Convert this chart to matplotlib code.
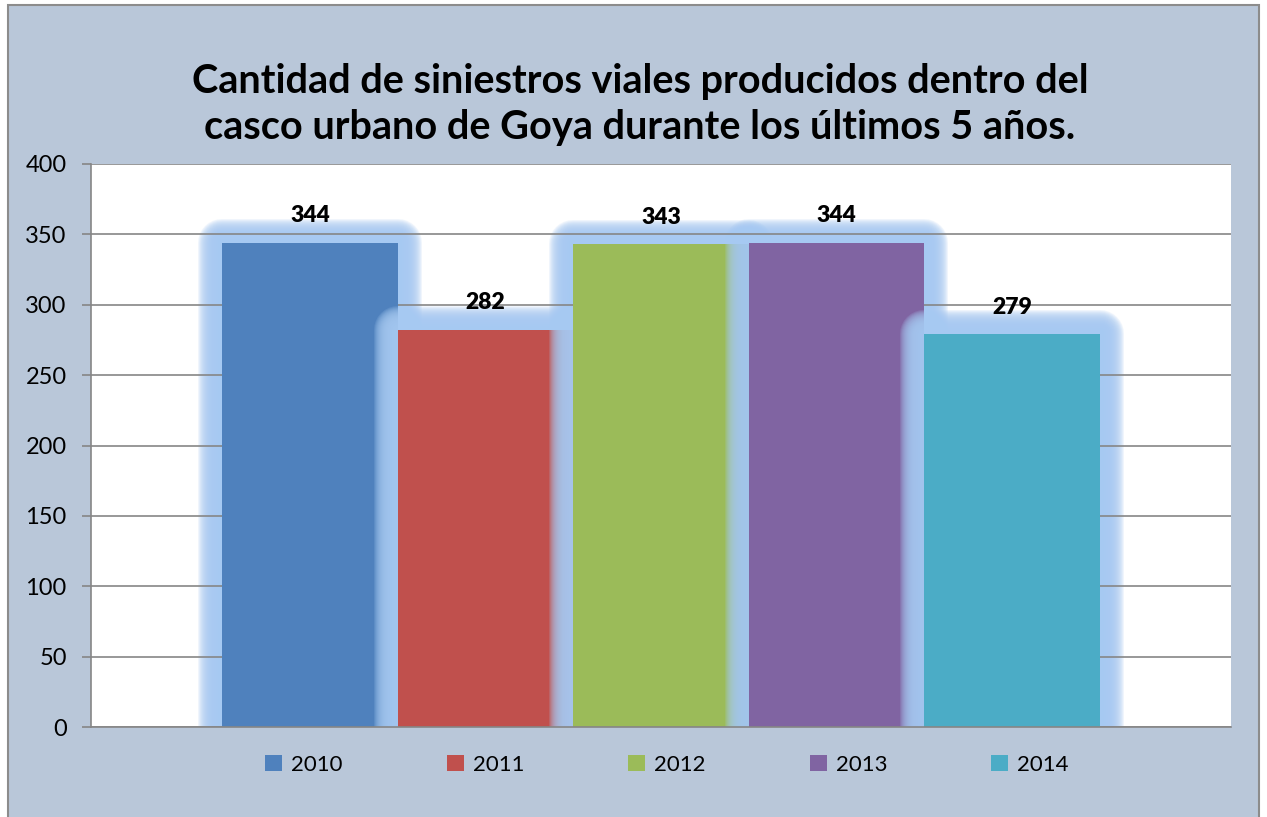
import matplotlib
matplotlib.use("Agg")
import matplotlib.pyplot as plt
import matplotlib.patheffects as pe
from matplotlib.patches import Rectangle

years = ["2010", "2011", "2012", "2013", "2014"]
accidents = [344, 282, 343, 344, 279]
colors = ["#4f81bd", "#c0504d", "#9bbb59", "#8064a2", "#4bacc6"]
yticks = [0, 50, 100, 150, 200, 250, 300, 350, 400]
title = "Cantidad de siniestros viales producidos dentro del\ncasco urbano de Goya durante los últimos 5 años."

plt.rcParams["font.family"] = ["Lato", "DejaVu Sans"]

bg = "#b9c7d9"
glow_color = "#a6c9f2"
fig = plt.figure(figsize=(12.67, 8.17), dpi=100)
fig.patch.set_facecolor("white")
fig.patches.append(Rectangle((8 / 1267, -0.01), 1251 / 1267, 1 - 5 / 817 + 0.01,
                             transform=fig.transFigure, facecolor=bg,
                             edgecolor="#8c8c8c", linewidth=1.5, zorder=-5))

ax = fig.add_axes([91 / 1267, 1 - 727 / 817, 1140 / 1267, 563 / 817])
ax.set_zorder(2)
ax.set_facecolor("white")

# soft glow: stacked strokes, extent in pixels -> linewidth in points
px = 72 / 100
glow = [pe.Stroke(linewidth=2 * e * px, foreground=glow_color, alpha=0.17,
                  joinstyle="round")
        for e in [24, 23, 22, 21, 20, 19, 18, 17, 16, 15, 14, 13, 12, 11, 10, 8, 6, 4]]
glow.append(pe.Normal())

width = 0.77 / 5
x0 = -0.77 / 2 + width / 2
handles = []
bars = []
for i, (yr, val, c) in enumerate(zip(years, accidents, colors)):
    x = x0 + i * width
    g = Rectangle((x - width / 2, 0), width, val, facecolor=glow_color, linewidth=0,
                  zorder=1)
    g.set_path_effects(glow)
    ax.add_patch(g)
    b = ax.bar(x, val, width=width, color=c, zorder=3, linewidth=0)[0]
    if bars:
        # glow of this bar spilling over the previous bar
        over = Rectangle((x - width / 2, 0), width, val, facecolor=glow_color,
                         linewidth=0, zorder=3 + i * 0.1)
        over.set_path_effects(glow)
        ax.add_patch(over)
        over.set_clip_path(bars[-1])
    bars.append(b)
    handles.append(Rectangle((0, 0), 1, 1, facecolor=c, linewidth=0, label=yr))
    ax.annotate(str(val), (x, val), xytext=(0, 12), textcoords="offset points",
                ha="center", va="bottom", fontsize=16.5, fontweight="heavy", zorder=5)

ax.set_xlim(-0.5, 0.5)
ax.set_ylim(0, 400)
ax.set_yticks(yticks)
ax.set_xticks([])
ax.tick_params(axis="y", length=6.5, width=1.2, color="#868686", pad=11, labelsize=17)
ax.yaxis.grid(True, color="#868686", linewidth=1.2, zorder=2)
ax.set_axisbelow(False)
for s in ["top", "right"]:
    ax.spines[s].set_visible(False)
for s in ["left", "bottom"]:
    ax.spines[s].set_color("#868686")
    ax.spines[s].set_linewidth(1.2)
    ax.spines[s].set_zorder(4)

fig.text(0.505, 1 - 104 / 817, title, ha="center", va="center", fontsize=28.5,
         fontweight="bold", linespacing=1.3)

fig.legend(handles=handles, loc="center", bbox_to_anchor=(667 / 1267, 1 - 765 / 817),
           ncol=5, frameon=False, fontsize=16, handlelength=0.75, handleheight=0.75,
           handletextpad=0.4, columnspacing=4.7)

fig.savefig("out.png", dpi=100, facecolor=fig.get_facecolor())
